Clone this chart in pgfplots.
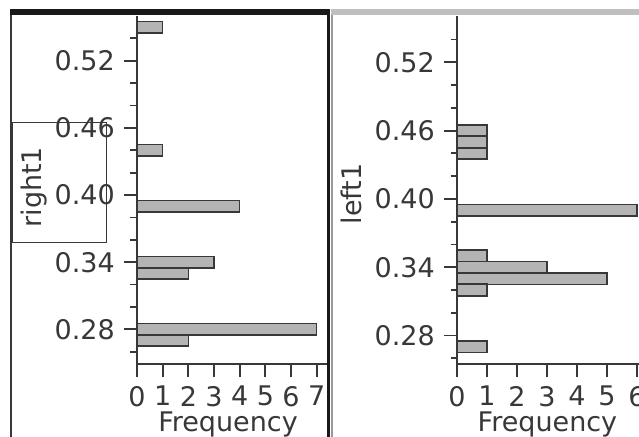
\documentclass[border=0pt]{standalone}
\usepackage{fontspec}
\setmainfont{DejaVu Sans}
\usepackage{pgfplots}
\pgfplotsset{compat=1.18}
\definecolor{barfill}{HTML}{B4B4B4}
\definecolor{ink}{HTML}{383838}
\begin{document}
\fontsize{27bp}{31bp}\selectfont
\begin{tikzpicture}
\useasboundingbox (0,0) rectangle (639bp,437bp);
\clip (0,0) rectangle (639bp,437bp);
\pgfplotsset{
  panel/.style={
    scale only axis, height=348bp,
    axis lines*=left,
    axis line style={ink, line width=1.8bp},
    tick align=outside,
    major tick length=13bp, minor tick length=6.5bp,
    every tick/.style={ink, line width=1.8bp},
    xmin=0, xtick={0,1,...,7},
    ytick={0.28,0.34,0.40,0.46,0.52},
    yticklabels={0.28,0.34,0.40,0.46,0.52},
    minor ytick={0.26,0.30,0.32,0.36,0.38,0.42,0.44,0.48,0.50,0.54},
    /pgf/number format/assume math mode=true,
    tick label style={font=\fontsize{27bp}{31bp}\selectfont, text=ink},
    label style={font=\fontsize{27bp}{31bp}\selectfont, text=ink},
    xlabel={Frequency},
    clip=false,
  },
  hbar/.style={xbar, bar width=0.0102, fill=barfill, draw=ink, line width=1.5bp},
}
% left panel: right1
\begin{axis}[panel, anchor=south west, at={(137bp,73bp)}, width=190bp,
  xmax=7.40, ymin=0.249, ymax=0.560,
  ylabel={right1},
  ylabel style={anchor=base, at={(axis description cs:-0.505,0.508)}},
  xlabel style={anchor=base, at={(axis description cs:0.479,-0.195)}}]
\addplot[hbar] coordinates {(1,0.55) (1,0.44) (4,0.39) (3,0.34) (2,0.33) (7,0.28) (2,0.27)};
\end{axis}
% right panel: left1
\begin{axis}[panel, anchor=south west, at={(457bp,73bp)}, width=182bp,
  xmax=6.07, ymin=0.255, ymax=0.5607,
  ylabel={left1},
  ylabel style={anchor=base, at={(axis description cs:-0.522,0.489)}},
  xlabel style={anchor=base, at={(axis description cs:0.497,-0.195)}}]
\addplot[hbar] coordinates {(1,0.46) (1,0.45) (1,0.44) (6,0.39) (1,0.35) (3,0.34) (5,0.33) (1,0.32) (1,0.27)};
\end{axis}
% panel frames
\fill[black!90] (10bp,422bp) rectangle (329bp,428bp);
\fill[black!25] (331bp,422bp) rectangle (639bp,428bp);
\draw[ink, line width=1.2bp] (11bp,0) -- (11bp,422bp);
\fill[black!90] (326.5bp,0) rectangle (330bp,428bp);
\draw[black!40, line width=1.5bp] (331.8bp,0) -- (331.8bp,422bp);
\draw[ink, line width=1.3bp] (12.3bp,194.3bp) rectangle (106.7bp,314.3bp);
\end{tikzpicture}
\end{document}
